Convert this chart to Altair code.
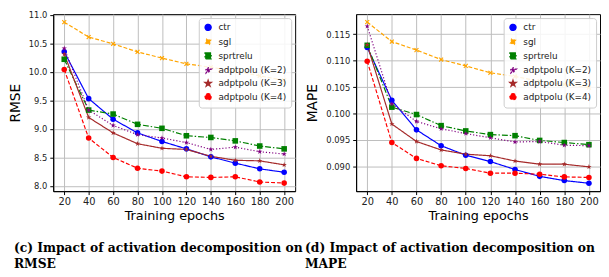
import altair as alt
import pandas as pd

epochs = [20, 40, 60, 80, 100, 120, 140, 160, 180, 200]
series = ["ctr", "sgl", "sprtrelu", "adptpolu (K=2)", "adptpolu (K=3)", "adptpolu (K=4)"]

rmse_ctr = [10.35, 9.53, 9.17, 8.93, 8.78, 8.65, 8.51, 8.40, 8.30, 8.24]
rmse_sgl = [10.87, 10.61, 10.49, 10.35, 10.24, 10.14, 10.08, 10.01, 9.93, 9.85]
rmse_sprtrelu = [10.22, 9.33, 9.26, 9.08, 9.01, 8.88, 8.85, 8.79, 8.70, 8.65]
rmse_k2 = [10.41, 9.33, 9.06, 8.90, 8.84, 8.76, 8.64, 8.68, 8.60, 8.56]
rmse_k3 = [10.31, 9.20, 8.93, 8.74, 8.66, 8.64, 8.52, 8.45, 8.44, 8.37]
rmse_k4 = [10.04, 8.84, 8.50, 8.31, 8.26, 8.16, 8.15, 8.16, 8.07, 8.05]

mape_ctr = [0.1125, 0.1025, 0.0969, 0.0939, 0.0921, 0.0909, 0.0894, 0.0881, 0.0873, 0.0868]
mape_sgl = [0.1173, 0.1136, 0.1120, 0.1102, 0.1090, 0.1077, 0.1070, 0.1061, 0.1055, 0.1049]
mape_sprtrelu = [0.1129, 0.1012, 0.0998, 0.0977, 0.0967, 0.0960, 0.0958, 0.0949, 0.0945, 0.0941]
mape_k2 = [0.1165, 0.1018, 0.0985, 0.0971, 0.0962, 0.0954, 0.0946, 0.0947, 0.0940, 0.0939]
mape_k3 = [0.1130, 0.0980, 0.0947, 0.0931, 0.0923, 0.0920, 0.0910, 0.0904, 0.0904, 0.0899]
mape_k4 = [0.1099, 0.0945, 0.0915, 0.0901, 0.0896, 0.0887, 0.0887, 0.0885, 0.0880, 0.0879]

rmse_ticks = [8.0, 8.5, 9.0, 9.5, 10.0, 10.5, 11.0]
mape_ticks = [0.090, 0.095, 0.100, 0.105, 0.110, 0.115]

colors = ["#0000ff", "#ffa500", "#008000", "#800080", "#a52a2a", "#ff0000"]
dashes = [[1, 0], [4, 2], [6, 2, 1.5, 2], [1.2, 2], [1, 0], [4, 2]]
STAR = "M0,-1L0.225,-0.309L0.951,-0.309L0.363,0.118L0.588,0.809L0,0.382L-0.588,0.809L-0.363,0.118L-0.951,-0.309L-0.225,-0.309Z"
XMARK = "M0.849,-0.566L0.283,0L0.849,0.566L0.566,0.849L0,0.283L-0.566,0.849L-0.849,0.566L-0.283,0L-0.849,-0.566L-0.566,-0.849L0,-0.283L0.566,-0.849Z"
shapes = ["circle", XMARK, "square", STAR, STAR, "circle"]


def frame(values_list):
    rows = []
    for name, vals in zip(series, values_list):
        for e, v in zip(epochs, vals):
            rows.append({"epoch": e, "value": v, "series": name})
    return pd.DataFrame(rows)


rmse_df = frame([rmse_ctr, rmse_sgl, rmse_sprtrelu, rmse_k2, rmse_k3, rmse_k4])
mape_df = frame([mape_ctr, mape_sgl, mape_sprtrelu, mape_k2, mape_k3, mape_k4])

legend = alt.Legend(
    title=None, orient="top-right", offset=4, padding=5, rowPadding=1.5,
    labelFont="DejaVu Sans", labelFontSize=9, labelColor="#222222",
    symbolSize=36, cornerRadius=3, strokeColor="#cccccc", labelOffset=6,
    fillColor="rgba(255,255,255,0.85)", labelLimit=120,
)


def panel(df, ytitle, domain, ticks, fmt, width, caption, dx):
    base = alt.Chart(df).encode(
        x=alt.X("epoch:Q", scale=alt.Scale(domain=[11, 209], nice=False),
                axis=alt.Axis(values=epochs, title="Training epochs", labelFontSize=10,
                              titleFontSize=13, titleFontWeight="normal", titlePadding=3,
                              labelPadding=2)),
        y=alt.Y("value:Q", scale=alt.Scale(domain=domain, nice=False, zero=False),
                axis=alt.Axis(values=ticks, format=fmt, title=ytitle, labelFontSize=8.5,
                              titleFontSize=14, titleFontWeight="normal", titlePadding=6,
                              labelPadding=3)),
        color=alt.Color("series:N", scale=alt.Scale(domain=series, range=colors), legend=legend),
    )
    lines = base.mark_line(strokeWidth=1.2).encode(
        strokeDash=alt.StrokeDash("series:N", scale=alt.Scale(domain=series, range=dashes), legend=None)
    )
    points = base.mark_point(filled=True, size=32, opacity=1).encode(
        shape=alt.Shape("series:N", scale=alt.Scale(domain=series, range=shapes), legend=legend)
    )
    return alt.layer(lines, points).properties(
        width=width, height=180,
        title=alt.TitleParams(text=caption, orient="bottom", anchor="start", frame="group",
                              dx=dx, offset=20, font="DejaVu Serif", fontWeight="bold",
                              fontSize=12.5, lineHeight=17, color="black"),
    )


left = panel(rmse_df, "RMSE", [7.909, 11.011], rmse_ticks, ".1f", 246,
             ["(c) Impact of activation decomposition on", "RMSE"], -40)
right = panel(mape_df, "MAPE", [0.0853, 0.1188], mape_ticks, ".3f", 248,
              ["(d) Impact of activation decomposition on", "MAPE"], -52)

chart = alt.hconcat(left, right, spacing=62, bounds="flush").resolve_scale(
    color="independent", shape="independent", strokeDash="independent"
).configure(font="DejaVu Sans").configure_view(
    stroke="black", strokeWidth=1
).configure_axis(
    grid=True, gridColor="#bdbdbd", gridWidth=1, domainColor="black", tickColor="black",
    tickSize=3.5, labelColor="#222222", titleColor="black", labelFont="DejaVu Sans",
    titleFont="DejaVu Sans",
).properties(padding={"left": 0, "top": 0, "right": 0, "bottom": 0})

chart.save("out.html", embed_options={"renderer": "svg", "actions": False})
